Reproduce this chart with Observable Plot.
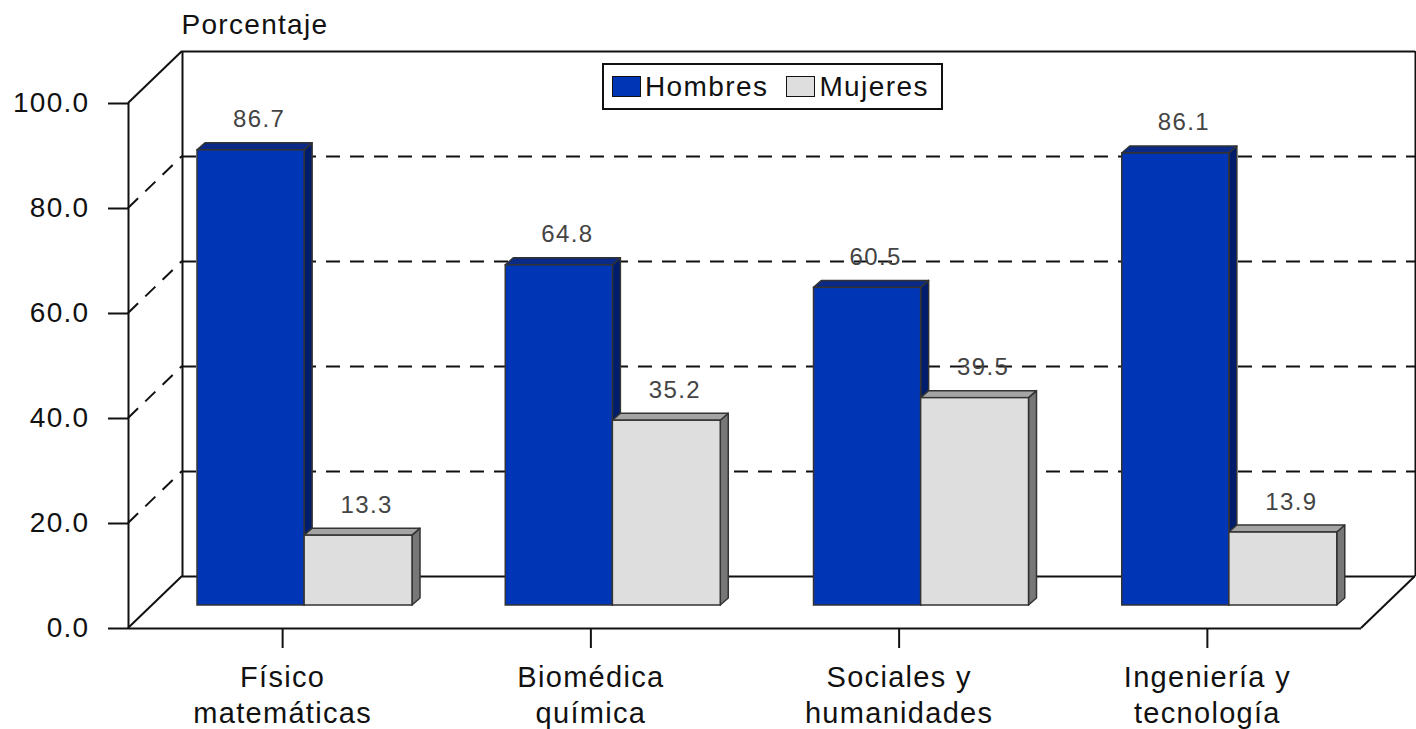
<!DOCTYPE html>
<html>
<head>
<meta charset="utf-8">
<script src="https://cdn.jsdelivr.net/npm/d3@7"></script>
<script src="https://cdn.jsdelivr.net/npm/@observablehq/plot@0.6"></script>
<style>
  html, body { margin: 0; padding: 0; background: #fff; }
  #wrap { position: relative; width: 1416px; height: 729px; font-family: "Liberation Sans", Arial, sans-serif; }
  #wrap svg text { letter-spacing: 1.3px; }
  #legend { position: absolute; left: 602px; top: 63px; width: 337px; height: 43px; border: 2px solid #111; background: #fff;
            display: flex; align-items: center; font-size: 28px; color: #111; box-sizing: content-box; letter-spacing: 1.4px; }
  #legend .sw { display: inline-block; width: 27px; height: 19px; border: 1.5px solid #111; margin: 0 4px 0 0; }
  #legend .item { display: flex; align-items: center; }
</style>
</head>
<body>
<div id="wrap"></div>
<script>
// ---- data ----
const categoryLabels = [["Físico", "matemáticas"], ["Biomédica", "química"], ["Sociales y", "humanidades"], ["Ingeniería y", "tecnología"]];
const seriesNames = ["Hombres", "Mujeres"];
const hombres = [86.7, 64.8, 60.5, 86.1];
const mujeres = [13.3, 35.2, 39.5, 13.9];
const yTicks = [0, 20, 40, 60, 80, 100];
const gridValues = [20, 40, 60, 80];

// ---- styles / layout ----
const colors = {
  Hombres: {front: "#0036B6", top: "#0A2A86", side: "#001D6C"},
  Mujeres: {front: "#DEDEDE", top: "#A4A4A4", side: "#777777"}
};
const WALL = {dx: 54, dy: -52};   // back wall depth offset (px)
const BAR = {dx: 22, dy: -23};    // bar depth position (px)
const DEPTH = {dx: 8, dy: -7};    // bar thickness (px)
const barSpan = {Hombres: [0.1525, 0.5], Mujeres: [0.5, 0.85]};

const rows = [];
categoryLabels.forEach((c, i) => {
  rows.push({i, s: "Hombres", v: hombres[i]});
  rows.push({i, s: "Mujeres", v: mujeres[i]});
});

const lineColor = "#111";

function leftWall(index, scales) {
  const {x, y} = scales;
  const g = d3.create("svg:g").attr("stroke", lineColor).attr("stroke-width", 2).attr("fill", "none");
  for (const v of gridValues) {
    g.append("line")
      .attr("x1", x(0)).attr("y1", y(v))
      .attr("x2", x(0) + WALL.dx).attr("y2", y(v) + WALL.dy)
      .attr("stroke-dasharray", "14,10");
  }
  for (const v of [0, 100]) {
    g.append("line")
      .attr("x1", x(0)).attr("y1", y(v))
      .attr("x2", x(0) + WALL.dx).attr("y2", y(v) + WALL.dy);
  }
  // floor right edge
  g.append("line")
    .attr("x1", x(4)).attr("y1", y(0))
    .attr("x2", x(4) + WALL.dx).attr("y2", y(0) + WALL.dy);
  return g.node();
}

function barFaces(index, scales) {
  const {x, y} = scales;
  const g = d3.create("svg:g").attr("stroke", "#333").attr("stroke-width", 1.5).attr("stroke-linejoin", "round");
  for (const r of rows) {
    const X2 = x(r.i + barSpan[r.s][1]) + BAR.dx;
    const X1 = x(r.i + barSpan[r.s][0]) + BAR.dx;
    const Y0 = y(0) + BAR.dy, YT = y(r.v) + BAR.dy;
    g.append("path")
      .attr("fill", colors[r.s].side)
      .attr("d", `M${X2},${YT}L${X2 + DEPTH.dx},${YT + DEPTH.dy}L${X2 + DEPTH.dx},${Y0 + DEPTH.dy}L${X2},${Y0}Z`);
    g.append("path")
      .attr("fill", colors[r.s].top)
      .attr("d", `M${X1},${YT}L${X1 + DEPTH.dx},${YT + DEPTH.dy}L${X2 + DEPTH.dx},${YT + DEPTH.dy}L${X2},${YT}Z`);
  }
  return g.node();
}

const plot = Plot.plot({
  width: 1416,
  height: 729,
  marginLeft: 128,
  marginRight: 55,
  marginTop: 103,
  marginBottom: 101,
  style: {fontFamily: "'Liberation Sans', Arial, sans-serif", background: "transparent", overflow: "visible"},
  x: {type: "linear", domain: [0, 4]},
  y: {domain: [0, 100]},
  marks: [
    // back wall dashed gridlines
    Plot.ruleY(gridValues, {x1: 0, x2: 4, dx: WALL.dx, dy: WALL.dy, stroke: lineColor, strokeWidth: 2, strokeDasharray: "14,10"}),
    // back wall border
    Plot.ruleY([0, 100], {x1: 0, x2: 4, dx: WALL.dx, dy: WALL.dy, stroke: lineColor, strokeWidth: 2}),
    Plot.ruleX([0, 4], {y1: 0, y2: 100, dx: WALL.dx, dy: WALL.dy, stroke: lineColor, strokeWidth: 2}),
    // left wall & floor diagonals
    leftWall,
    // floor front edge and front vertical axis
    Plot.ruleY([0], {x1: 0, x2: 4, stroke: lineColor, strokeWidth: 2}),
    Plot.ruleX([0], {y1: 0, y2: 100, stroke: lineColor, strokeWidth: 2}),
    // bars
    barFaces,
    Plot.rect(rows, {
      x1: d => d.i + barSpan[d.s][0],
      x2: d => d.i + barSpan[d.s][1],
      y1: 0,
      y2: "v",
      dx: BAR.dx, dy: BAR.dy,
      fill: d => colors[d.s].front,
      stroke: "#333", strokeWidth: 1.5
    }),
    // value labels
    Plot.text(rows, {
      x: d => d.i + (barSpan[d.s][0] + barSpan[d.s][1]) / 2,
      y: "v",
      text: d => d.v.toFixed(1),
      dx: BAR.dx + 8, dy: BAR.dy - 23,
      lineAnchor: "bottom",
      fontSize: 24, fill: "#444"
    }),
    // axes
    Plot.axisY(yTicks, {
      tickFormat: d => d.toFixed(1),
      tickSize: 20, tickPadding: 19,
      fontSize: 28, stroke: lineColor, strokeWidth: 2, fill: "#111", label: null
    }),
    Plot.axisX(categoryLabels.map((c, i) => i + 0.5), {
      tickFormat: d => categoryLabels[Math.floor(d)].join("\n"),
      tickSize: 20, tickPadding: 13,
      fontSize: 29, lineHeight: 1.24, stroke: lineColor, strokeWidth: 2, fill: "#111", label: null
    }),
    // y axis title
    Plot.text(["Porcentaje"], {
      frameAnchor: "top-left", dx: 53, dy: -70,
      textAnchor: "start", lineAnchor: "bottom",
      fontSize: 28, fill: "#111"
    })
  ]
});

const wrap = document.getElementById("wrap");
wrap.appendChild(plot);

// legend
const legend = document.createElement("div");
legend.id = "legend";
legend.innerHTML = seriesNames.map((s, k) =>
  `<span class="item" style="margin-left:${k === 0 ? 8 : 18}px"><span class="sw" style="background:${colors[s].front}"></span>${s}</span>`
).join("");
wrap.appendChild(legend);
</script>
</body>
</html>
